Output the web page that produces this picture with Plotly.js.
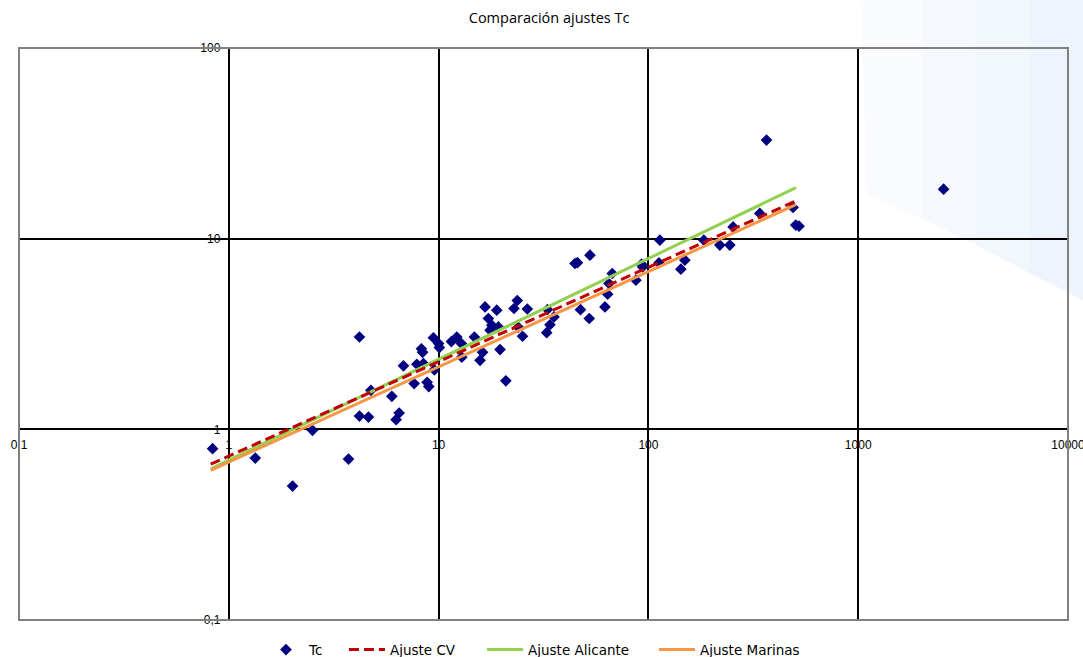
<!DOCTYPE html>
<html>
<head>
<meta charset="utf-8">
<script src="https://cdn.plot.ly/plotly-3.0.1.min.js"></script>
<style>
  html, body { margin: 0; padding: 0; background: #ffffff; }
  #chart { width: 1083px; height: 657px; }
</style>
</head>
<body>
<div id="chart"></div>
<script>
// ---- Data ----
const tcX = [0.837, 1.337, 2.013, 2.506, 3.72, 4.196, 4.196, 4.63, 4.755, 5.985,
             6.275, 6.485, 6.80, 7.645, 7.875, 8.28, 8.39, 8.465, 8.817, 8.982,
             9.445, 10.0, 10.08, 9.55, 11.51, 12.21, 12.84, 12.90, 14.81, 15.76,
             16.20, 16.65, 17.27, 17.59, 17.92, 18.93, 19.27, 19.63, 20.92, 22.88,
             23.72, 25.12, 23.99, 26.48, 33.04, 32.75, 33.96, 35.48, 44.67, 45.91,
             47.45, 52.25, 52.65, 62.07, 63.93, 64.85, 67.24, 87.2, 92.8, 93.8,
             112.2, 113.4, 142.8, 149.2, 183.8, 219, 244.4, 253.4, 339.6, 365.5,
             489.3, 504, 522.5, 2553];
const tcY = [0.792, 0.707, 0.504, 0.988, 0.698, 3.05, 1.174, 1.16, 1.602, 1.49,
             1.124, 1.218, 2.154, 1.738, 2.194, 2.646, 2.536, 2.213, 1.765, 1.675,
             3.022, 2.818, 2.685, 2.052, 2.886, 3.05, 2.818, 2.39, 3.05, 2.302,
             2.536, 4.385, 3.813, 3.31, 3.516, 4.214, 3.444, 2.62, 1.797, 4.302,
             4.738, 3.077, 3.43, 4.276, 4.25, 3.212, 3.537, 3.886, 7.41, 7.48,
             4.24, 3.813, 8.19, 4.385, 5.113, 5.819, 6.567, 6.057, 7.347, 7.11,
             7.46, 9.82, 6.92, 7.71, 9.82, 9.25, 9.25, 11.53, 13.56, 32.89,
             14.58, 11.78, 11.63, 18.19];

const fitX = [0.82, 10, 100, 505];
const cvY = [0.656, 2.263, 7.08, 15.78];
const alicanteY = [0.621, 2.33, 7.87, 18.52];
const marinasY = [0.610, 2.128, 6.72, 15.09];

const tickVals = [0.1, 1, 10, 100, 1000, 10000];
const xTickText = ['0,1', '1', '10', '100', '1000', '10000'];
const yTickVals = [0.1, 1, 10, 100];
const yTickText = ['0,1', '1', '10', '100'];

const seriesNames = ['Tc', 'Ajuste CV', 'Ajuste Alicante', 'Ajuste Marinas'];

// ---- Traces ----
const traces = [
  { x: tcX, y: tcY, name: seriesNames[0], type: 'scatter', mode: 'markers',
    marker: { symbol: 'diamond', size: 9, color: '#000080' }, legend: 'legend' },
  { x: fitX, y: alicanteY, name: seriesNames[2], type: 'scatter', mode: 'lines',
    line: { color: '#92D050', width: 3 }, legend: 'legend3' },
  { x: fitX, y: marinasY, name: seriesNames[3], type: 'scatter', mode: 'lines',
    line: { color: '#F79646', width: 3 }, legend: 'legend4' },
  { x: fitX, y: cvY, name: seriesNames[1], type: 'scatter', mode: 'lines',
    line: { color: '#C00000', width: 3, dash: '10px,5px' }, legend: 'legend2' }
];

const tickFont = { family: 'Liberation Sans, Arial, sans-serif', size: 12, color: '#000000' };

// background swoosh (paper coordinates), stepped to imitate a soft gradient
const swoosh = [
  ['M 0.802,1.09 L 1.02,1.09 L 1.02,0.554 L 0.9631,0.607 L 0.9119,0.6563 L 0.8605,0.7015 L 0.809,0.743 Z', '#f9fbfe'],
  ['M 0.8605,1.09 L 1.02,1.09 L 1.02,0.554 L 0.9631,0.607 L 0.9119,0.6563 L 0.8605,0.7015 Z', '#f5f9fe'],
  ['M 0.9119,1.09 L 1.02,1.09 L 1.02,0.554 L 0.9631,0.607 L 0.9119,0.6563 Z', '#f1f7fd'],
  ['M 0.9631,1.09 L 1.02,1.09 L 1.02,0.554 L 0.9631,0.607 Z', '#edf4fd']
].map(s => ({ type: 'path', xref: 'paper', yref: 'paper', layer: 'below',
              path: s[0], fillcolor: s[1], line: { width: 0 } }));

const legendFont = { family: 'DejaVu Sans, sans-serif', size: 13.5, color: '#000000' };
function legendAt(xFrac) {
  return { orientation: 'h', xref: 'container', x: xFrac, xanchor: 'left',
           yref: 'container', y: 0.011, yanchor: 'middle',
           font: legendFont, bgcolor: 'rgba(0,0,0,0)', itemwidth: 36 };
}

const layout = {
  width: 1083, height: 657,
  margin: { l: 19, r: 15, t: 48, b: 37 },
  paper_bgcolor: '#ffffff',
  plot_bgcolor: 'rgba(0,0,0,0)',
  title: {
    text: 'Comparación ajustes Tc',
    font: { family: 'Open Sans, Noto Sans, sans-serif', size: 14.5, color: '#000000' },
    x: 0.507, xref: 'container', xanchor: 'center',
    y: 0.972, yref: 'container', yanchor: 'middle'
  },
  xaxis: {
    type: 'log', range: [-1, 4], autorange: false,
    tickmode: 'array', tickvals: tickVals, ticktext: xTickText,
    showgrid: true, gridcolor: '#000000', gridwidth: 2,
    showline: false, zeroline: false,
    ticks: 'outside', ticklen: 4, tickcolor: 'rgba(0,0,0,0)',
    anchor: 'free', position: 1 / 3, ticklabeloverflow: 'allow',
    tickfont: tickFont
  },
  yaxis: {
    type: 'log', range: [-1, 2], autorange: false,
    tickmode: 'array', tickvals: yTickVals, ticktext: yTickText,
    showgrid: true, gridcolor: '#000000', gridwidth: 2,
    showline: false, zeroline: false,
    ticks: 'outside', ticklen: 6, tickcolor: 'rgba(0,0,0,0)',
    anchor: 'free', position: 0.2, ticklabeloverflow: 'allow',
    tickfont: tickFont
  },
  showlegend: true,
  legend: legendAt(0.2428),
  legend2: legendAt(0.3176),
  legend3: legendAt(0.4451),
  legend4: legendAt(0.6039),
  shapes: swoosh.concat([
    { type: 'rect', xref: 'paper', yref: 'paper', x0: 0, x1: 1, y0: 0, y1: 1,
      line: { color: '#808080', width: 2 }, fillcolor: 'rgba(0,0,0,0)', layer: 'above' }
  ])
};

Plotly.newPlot('chart', traces, layout, { displayModeBar: false, staticPlot: true });
</script>
</body>
</html>
